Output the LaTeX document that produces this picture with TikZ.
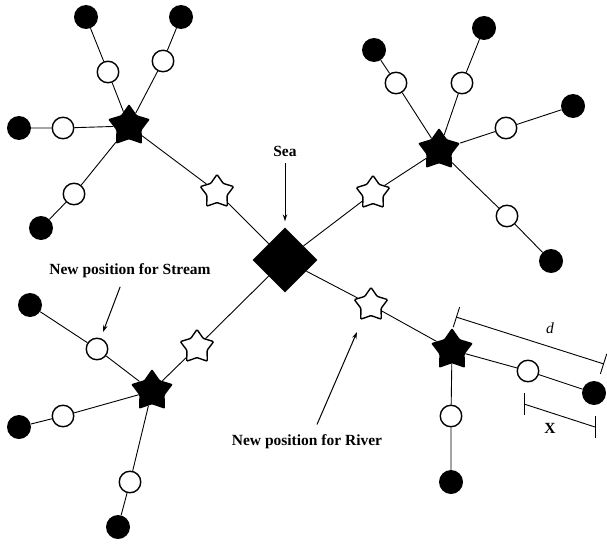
\documentclass[tikz,border=0pt]{standalone}
\usepackage{fontspec}
\setmainfont{Liberation Serif}
\usetikzlibrary{shapes.geometric,arrows.meta}
\begin{document}
\begin{tikzpicture}[x=1pt,y=-1pt,
  link/.style={line width=0.9pt},
  bcirc/.style={circle, fill=black, minimum size=24pt, inner sep=0pt},
  ocirc/.style={circle, draw=black, fill=white, line width=1.4pt, minimum size=21.5pt, inner sep=0pt},
  bstar/.style={star, star points=5, star point ratio=1.65, fill=black, minimum size=44pt, inner sep=0pt, rounded corners=1pt},
  wstar/.style={star, star points=5, star point ratio=1.65, draw=black, fill=white, line width=1.4pt, minimum size=35pt, inner sep=0pt, rounded corners=1pt},
  seadia/.style={diamond, fill=black, minimum width=65pt, minimum height=65pt, inner sep=0pt},
  arr/.style={line width=1pt, -{Stealth[length=7pt,width=4.5pt]}},
  lbl/.style={font=\fontsize{15.5pt}{18pt}\selectfont\bfseries, inner sep=1pt}
]
\useasboundingbox (0,0) rectangle (607,543);

% centre
\node[seadia] (sea) at (285,260) {};

% top-left cluster
\node[bstar] (bs1) at (129,126) {};
\node[wstar] (ws1) at (217,192) {};
\node[ocirc] (o11) at (108,72) {};  \node[bcirc] (b11) at (86,17) {};
\node[ocirc] (o12) at (163,61) {};  \node[bcirc] (b12) at (181,17) {};
\node[ocirc] (o13) at (63,128) {};  \node[bcirc] (b13) at (19,128) {};
\node[ocirc] (o14) at (74,194) {};  \node[bcirc] (b14) at (41,228) {};

% top-right cluster
\node[bstar] (bs2) at (439,150) {};
\node[wstar] (ws2) at (373,193) {};
\node[ocirc] (o21) at (396,83) {};  \node[bcirc] (b21) at (374,50) {};
\node[ocirc] (o22) at (462,83) {};  \node[bcirc] (b22) at (484,28) {};
\node[ocirc] (o23) at (506,128) {}; \node[bcirc] (b23) at (573,106) {};
\node[ocirc] (o24) at (507,216) {}; \node[bcirc] (b24) at (551,261) {};

% bottom-left cluster
\node[bstar] (bs3) at (152,391) {};
\node[wstar] (ws3) at (197,347) {};
\node[ocirc] (o31) at (97,349) {};  \node[bcirc] (b31) at (30,305) {};
\node[ocirc] (o32) at (63,416) {};  \node[bcirc] (b32) at (19,427) {};
\node[ocirc] (o33) at (130,482) {}; \node[bcirc] (b33) at (118,527) {};

% bottom-right cluster
\node[bstar] (bs4) at (452,350) {};
\node[wstar] (ws4) at (371,305) {};
\node[ocirc] (o41) at (528,371) {}; \node[bcirc] (b41) at (594,393) {};
\node[ocirc] (o42) at (451,416) {}; \node[bcirc] (b42) at (451,482) {};

% connectors
\draw[link] (sea) -- (ws1) -- (bs1);
\draw[link] (sea) -- (ws2) -- (bs2);
\draw[link] (sea) -- (ws3) -- (bs3);
\draw[link] (sea) -- (ws4) -- (bs4);
\draw[link] (bs1) -- (o11) -- (b11);
\draw[link] (bs1) -- (o12) -- (b12);
\draw[link] (bs1) -- (o13) -- (b13);
\draw[link] (bs1) -- (o14) -- (b14);
\draw[link] (bs2) -- (o21) -- (b21);
\draw[link] (bs2) -- (o22) -- (b22);
\draw[link] (bs2) -- (o23) -- (b23);
\draw[link] (bs2) -- (o24) -- (b24);
\draw[link] (bs3) -- (o31) -- (b31);
\draw[link] (bs3) -- (o32) -- (b32);
\draw[link] (bs3) -- (o33) -- (b33);
\draw[link] (bs4) -- (o41) -- (b41);
\draw[link] (bs4) -- (o42) -- (b42);

% labels and arrows
\node[lbl] (sealbl) at (285,151) {Sea};
\draw[arr, shorten <=6pt, shorten >=6pt] (sealbl.south) -- (sea.north);

\node[lbl] (streamlbl) at (130,271) {New position for Stream};
\coordinate (streamtip) at (103,332);
\draw[arr, shorten <=8pt] ([xshift=-7pt]streamlbl.south) -- (streamtip);

\node[lbl] (riverlbl) at (307,442) {New position for River};
\coordinate (rivertip) at (357,332);
\draw[arr, shorten <=10pt] ([xshift=6pt]riverlbl.north) -- (rivertip);

% measures
\coordinate (d1) at (456,317);
\coordinate (d2) at (604,364);
\draw[link, {Bar[width=21pt]}-{Bar[width=21pt]}] (d1) -- (d2);
\node[font=\fontsize{15.5pt}{18pt}\selectfont\itshape, inner sep=1pt] (dlbl) at (550,328) {d};

\coordinate (x1) at (524,404);
\coordinate (x2) at (595,427);
\draw[link] (x1) -- (x2);
\draw[link] ([yshift=11pt]x1) -- ([yshift=-11pt]x1);
\draw[link] ([yshift=11pt]x2) -- ([yshift=-11pt]x2);
\node[lbl] (xlbl) at (550,428) {X};
\end{tikzpicture}
\end{document}
